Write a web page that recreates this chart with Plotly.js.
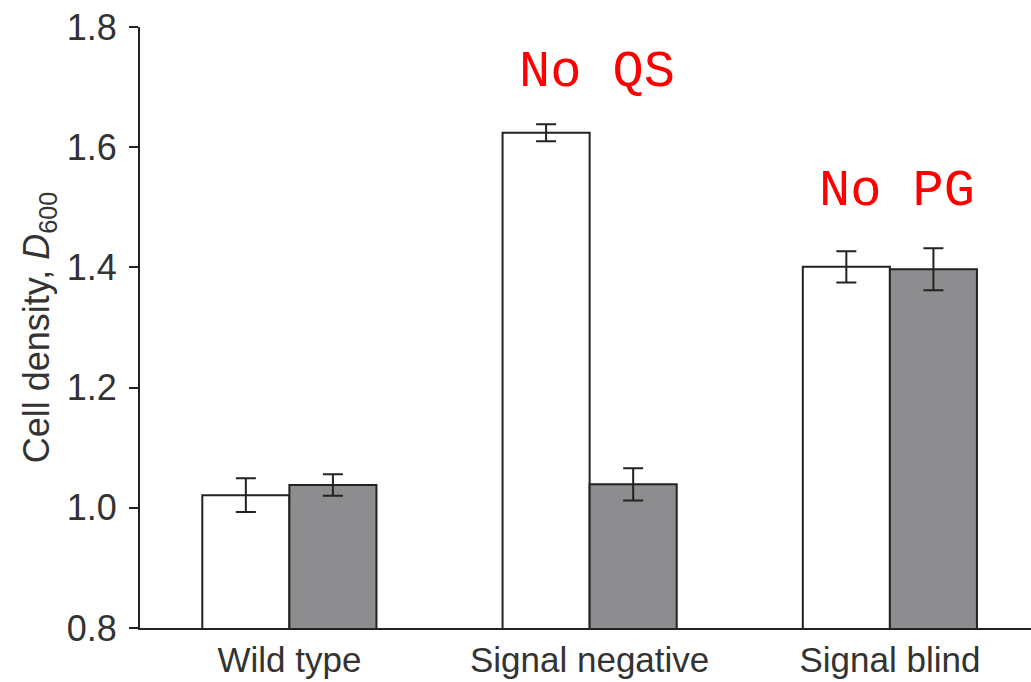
<!DOCTYPE html>
<html>
<head>
<meta charset="utf-8">
<script src="https://cdn.plot.ly/plotly-3.0.1.min.js"></script>
<style>html,body{margin:0;padding:0;background:#fff;}#chart{width:1031px;height:682px;}</style>
</head>
<body>
<div id="chart"></div>
<script>
const categories = ['Wild type', 'Signal negative', 'Signal blind'];
const whiteValues = [1.021, 1.624, 1.401];
const whiteErrors = [0.028, 0.014, 0.026];
const grayValues = [1.038, 1.039, 1.397];
const grayErrors = [0.018, 0.027, 0.035];
const noteTexts = ['No QS', 'No PG'];
const noteX = [1, 2];
const noteY = [1.725, 1.527];
const yTicks = [0.8, 1.0, 1.2, 1.4, 1.6, 1.8];
const yTickText = ['0.8', '1.0', '1.2', '1.4', '1.6', '1.8'];

const lineColor = '#222222';
const textColor = '#333333';

const traces = [
  {
    type: 'bar', x: [0, 1, 2], y: whiteValues, name: 'white',
    marker: {color: '#ffffff', line: {color: lineColor, width: 2}},
    error_y: {type: 'data', array: whiteErrors, visible: true, color: lineColor, thickness: 2, width: 10},
    hoverinfo: 'skip'
  },
  {
    type: 'bar', x: [0, 1, 2], y: grayValues, name: 'gray',
    marker: {color: '#8d8d90', line: {color: lineColor, width: 2}},
    error_y: {type: 'data', array: grayErrors, visible: true, color: lineColor, thickness: 2, width: 10},
    hoverinfo: 'skip'
  }
];

const annotations = noteTexts.map((t, i) => ({
  x: noteX[i], y: noteY[i], xref: 'x', yref: 'y', text: t, showarrow: false,
  xshift: 7,
  font: {family: '"Liberation Mono", "Courier New", monospace', size: 52, color: '#ff0000'}
}));

const layout = {
  width: 1031, height: 682,
  margin: {l: 140, r: 0, t: 27, b: 54, pad: 0},
  paper_bgcolor: '#ffffff', plot_bgcolor: '#ffffff',
  showlegend: false,
  barmode: 'group', bargap: 0.42, bargroupgap: 0,
  font: {family: '"Liberation Sans", Arial, sans-serif', color: textColor},
  xaxis: {
    range: [-0.4975, 2.47], tickvals: [0, 1, 2], ticktext: categories,
    showline: true, linecolor: lineColor, linewidth: 2,
    ticks: '', showgrid: false, zeroline: false,
    tickfont: {size: 35, color: textColor}, fixedrange: true
  },
  yaxis: {
    range: [0.8, 1.8], tickvals: yTicks, ticktext: yTickText,
    showline: true, linecolor: lineColor, linewidth: 2,
    ticks: 'outside', ticklen: 9, tickwidth: 2, tickcolor: lineColor,
    ticklabelstandoff: 5,
    showgrid: false, zeroline: false,
    tickfont: {size: 36, color: textColor},
    title: {text: 'Cell density, <i>D</i><sub>600</sub>', font: {size: 36, color: textColor}, standoff: 6},
    fixedrange: true
  },
  annotations: annotations
};

Plotly.newPlot('chart', traces, layout, {displayModeBar: false, staticPlot: true});
</script>
</body>
</html>
